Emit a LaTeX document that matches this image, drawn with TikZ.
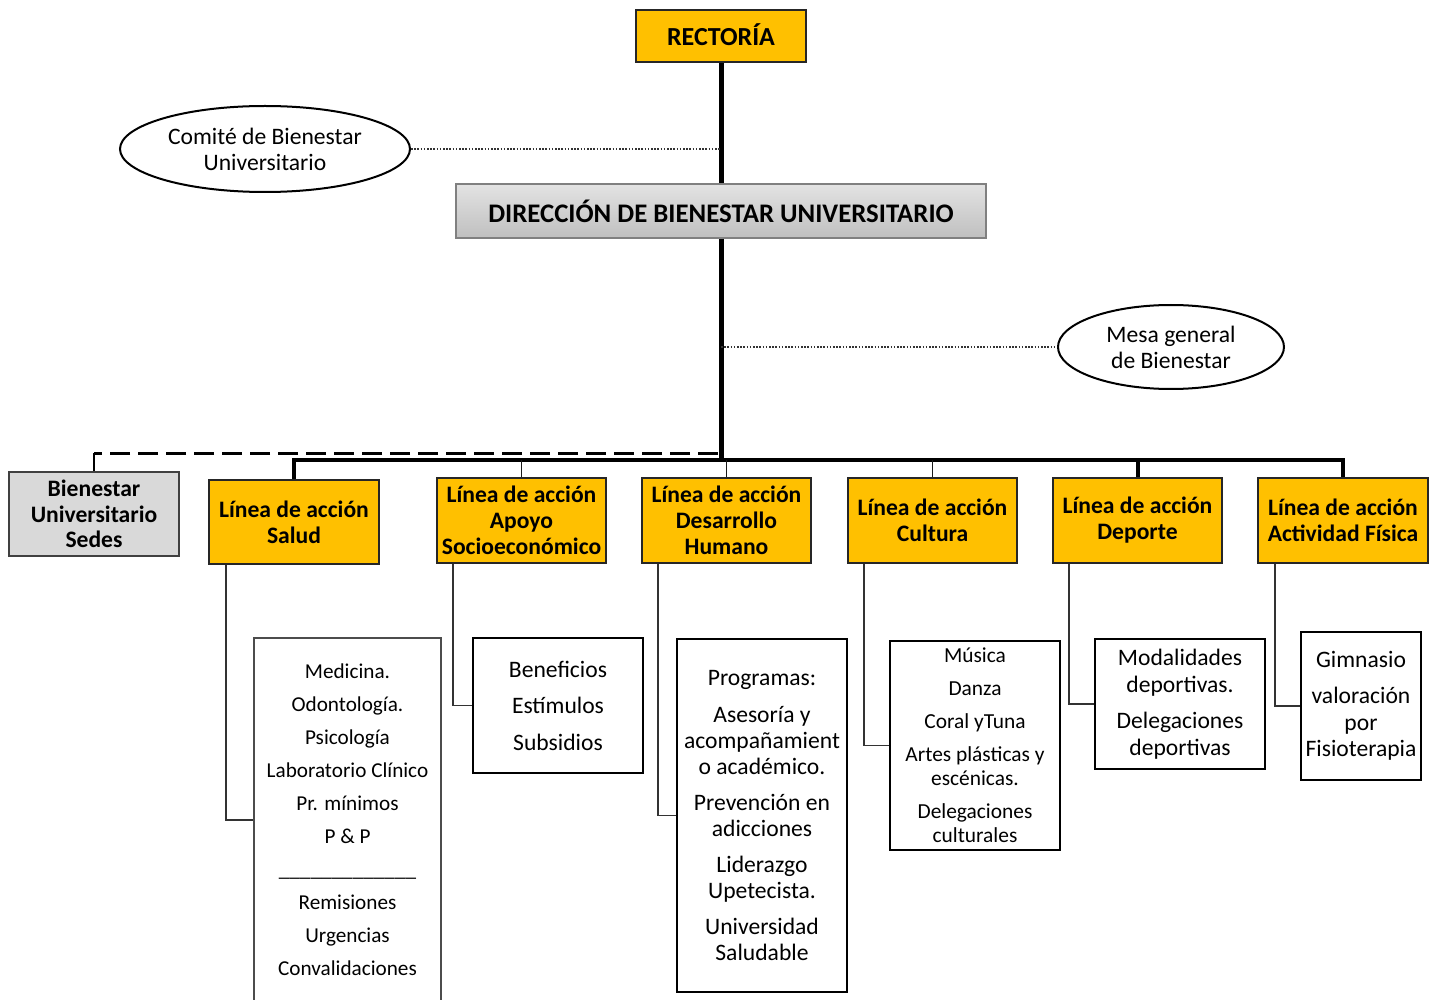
\documentclass[tikz,border=0pt]{standalone}
\usepackage{fontspec}
\setmainfont{Carlito}
\usetikzlibrary{shapes.geometric,calc}
\definecolor{amber}{HTML}{FFC000}
\begin{document}
\begin{tikzpicture}[x=0.5pt,y=-0.5pt,
  sz/.style 2 args={minimum width=#1*0.5pt, minimum height=#2*0.5pt, inner sep=0pt},
  ybox/.style={draw=black!85, line width=1pt, fill=amber, align=center, font=\bfseries\fontsize{11.8}{13}\selectfont},
  lbox/.style={draw=black, line width=1pt, fill=white, align=center},
  oval/.style={ellipse, draw=black, line width=1pt, fill=white, align=center, font=\fontsize{11.8}{13}\selectfont},
  mainline/.style={line width=2.5pt, black},
  busline/.style={line width=2pt, black},
  dropthin/.style={line width=0.8pt, black!90},
  conn/.style={line width=0.65pt, black!80},
  dotline/.style={line width=0.6pt, black!80, dash pattern=on 0.8pt off 0.8pt},
  dashline/.style={line width=1.5pt, black, dash pattern=on 10pt off 4pt}
]
\useasboundingbox (0,0) rectangle (1436,1000);
\clip (0,0) rectangle (1436,1000);
\fill[white] (0,0) rectangle (1436,1000);

% top
\node[ybox, sz={170}{52}, font=\bfseries\fontsize{13}{15}\selectfont] (rect) at (721,36) {\raisebox{1pt}{RECTORÍA}};
\node[sz={530}{54}, draw=black!50, line width=0.6pt, top color=black!11, bottom color=black!25,
      font=\bfseries\fontsize{13.4}{15}\selectfont] (dir) at (721,211) {DIRECCIÓN DE BIENESTAR UNIVERSITARIO};
\node[oval, sz={290}{86}] (comite) at (265,149) {Comité de Bienestar\\Universitario};
\node[oval, sz={226}{84}] (mesa) at (1171,347) {Mesa general\\de Bienestar};

% second level
\node[sz={170}{84}, draw=black!75, line width=0.8pt, fill=black!15, align=center,
      font=\bfseries\fontsize{11.8}{12.8}\selectfont] (sedes) at (94,514) {Bienestar\\Universitario\\Sedes};
\node[ybox, sz={170}{84}] (salud) at (294,522) {Línea de acción\\Salud};
\node[ybox, sz={169}{85}] (apoyo) at (521.5,520.5) {Línea de acción\\Apoyo\\Socioeconómico};
\node[ybox, sz={169}{85}] (desa) at (726.5,520.5) {Línea de acción\\Desarrollo\\Humano};
\node[ybox, sz={169}{85}] (cult) at (932.5,520.5) {Línea de acción\\Cultura};
\node[ybox, sz={169}{85}] (dep) at (1137.5,520.5) {Línea de acción\\Deporte};
\node[ybox, sz={170}{85}] (act) at (1343,520.5) {Línea de acción\\Actividad Física};

% lists
\node[lbox, draw=black!70, sz={187}{364}, font=\fontsize{10.6}{16.5}\selectfont] (saludlist) at (347.5,820)
  {Medicina.\\Odontología.\\Psicología\\Laboratorio Clínico\\Pr. mínimos\\P \& P\\\_\_\_\_\_\_\_\_\_\_\_\_\_\\Remisiones\\Urgencias\\Convalidaciones};
\node[lbox, sz={170}{135}, font=\fontsize{11.8}{18.25}\selectfont] (apoyolist) at (558,705.5)
  {Beneficios\\Estímulos\\Subsidios};
\node[lbox, sz={170}{353}, font=\fontsize{11.8}{13}\selectfont] (desalist) at (762,815.5)
  {Programas:\\[5.5pt]Asesoría y\\acompañamient\\o académico.\\[5pt]Prevención en\\adicciones\\[5pt]Liderazgo\\Upetecista.\\[5pt]Universidad\\Saludable};
\node[lbox, sz={170}{209}, font=\fontsize{10.7}{12}\selectfont] (cultlist) at (975,745.5)
  {Música\\[4.5pt]Danza\\[4.5pt]Coral yTuna\\[4.5pt]Artes plásticas y\\escénicas.\\[4.5pt]Delegaciones\\culturales};
\node[lbox, sz={170}{130}, font=\fontsize{11.8}{13.5}\selectfont] (deplist) at (1180,704)
  {Modalidades\\deportivas.\\[4.5pt]Delegaciones\\deportivas};
\node[lbox, sz={120}{148}, font=\fontsize{11.8}{13.25}\selectfont] (actlist) at (1361,706)
  {Gimnasio\\[5pt]valoración\\por\\Fisioterapia};

% coordinates
\coordinate (bus) at (721,460);
\coordinate (dashend) at (718,453);

% main trunk
\draw[mainline] (rect.south) -- (dir.north);
\draw[mainline] (dir.south) -- (bus);
% dotted links
\draw[dotline] (comite.east) -- (rect.south |- comite.east);
\draw[dotline] (rect.south |- mesa.west) -- (mesa.west);
% dashed link to sedes
\draw[dashline] (dashend) -- (sedes.north |- dashend);
\draw[line width=0.9pt, black] (sedes.north) -- (sedes.north |- dashend);
% bus
\draw[busline] (salud.north) |- (bus) -| (act.north);
\draw[busline] (dep.north) -- (dep.north |- bus);
\draw[dropthin] (apoyo.north) -- (apoyo.north |- bus);
\draw[dropthin] (desa.north) -- (desa.north |- bus);
\draw[dropthin] (cult.north) -- (cult.north |- bus);

% sub connectors
\draw[conn] ([xshift=9pt]salud.south west) |- (saludlist.west);
\draw[conn] ([xshift=8.5pt]apoyo.south west) |- (apoyolist.west);
\draw[conn] ([xshift=8.5pt]desa.south west) |- (desalist.west);
\draw[conn] ([xshift=8.5pt]cult.south west) |- (cultlist.west);
\draw[conn] ([xshift=8.5pt]dep.south west) |- (deplist.west);
\draw[conn] ([xshift=9pt]act.south west) |- (actlist.west);
\end{tikzpicture}
\end{document}
